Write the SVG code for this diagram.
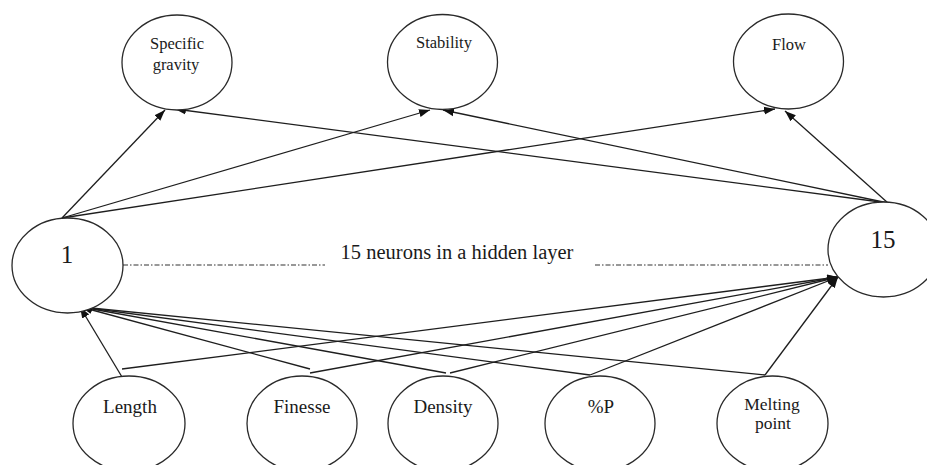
<svg xmlns="http://www.w3.org/2000/svg" width="927" height="465" viewBox="0 0 927 465" font-family="'Liberation Serif', 'DejaVu Serif', serif">
  <style>
    .node ellipse { fill: #ffffff; stroke: #2a2a2a; stroke-width: 1.3; }
    text { font-family: 'Liberation Serif', 'DejaVu Serif', serif; fill: #1a1a1a; text-anchor: middle; }
    .top { font-size: 16.5px; }
    .bot { font-size: 19px; }
    .hid { font-size: 25px; }
    .edge { stroke: #1e1e1e; stroke-width: 1.3; fill: none; marker-end: url(#arrow); }
    .dashdot { stroke: #333333; stroke-width: 1.1; fill: none; stroke-dasharray: 5 2 1.5 2; }
  </style>
  <defs>
    <marker id="arrow" markerUnits="userSpaceOnUse" markerWidth="12" markerHeight="9" refX="11" refY="4.5" orient="auto">
      <path d="M0,0.5 L11,4.5 L0,8.5 z" fill="#111111"/>
    </marker>
  </defs>
  <rect width="927" height="465" fill="#ffffff"/>

  <!-- connectors -->
  <g id="connectors">
    <!-- hidden neuron 1 to outputs -->
    <line class="edge" x1="62" y1="218" x2="165" y2="110"/>
    <line class="edge" x1="62" y1="218" x2="430" y2="110"/>
    <line class="edge" x1="62" y1="218" x2="775" y2="109"/>
    <!-- hidden neuron 15 to outputs -->
    <line class="edge" x1="888" y1="203" x2="175" y2="109"/>
    <line class="edge" x1="888" y1="203" x2="443" y2="110"/>
    <line class="edge" x1="888" y1="203" x2="785" y2="111"/>
    <!-- inputs to hidden neuron 1 -->
    <line class="edge" x1="122" y1="377" x2="80" y2="307"/>
    <line class="edge" x1="310" y1="369" x2="81" y2="307"/>
    <line class="edge" x1="446" y1="373" x2="81" y2="307"/>
    <line class="edge" x1="590" y1="375" x2="81" y2="307"/>
    <line class="edge" x1="765" y1="375" x2="81" y2="307"/>
    <!-- inputs to hidden neuron 15 -->
    <line class="edge" x1="122" y1="369" x2="838" y2="277"/>
    <line class="edge" x1="310" y1="373" x2="838" y2="277"/>
    <line class="edge" x1="450" y1="373" x2="838" y2="277"/>
    <line class="edge" x1="590" y1="375" x2="838" y2="277"/>
    <line class="edge" x1="765" y1="375" x2="838" y2="277"/>
    <!-- hidden layer span -->
    <line class="dashdot" x1="123" y1="265" x2="325" y2="265"/>
    <line class="dashdot" x1="595" y1="265" x2="828" y2="265"/>
  </g>

  <text x="457" y="259" font-size="20.5">15 neurons in a hidden layer</text>

  <!-- output layer -->
  <g id="out-specific-gravity" class="node">
    <ellipse cx="177" cy="62.5" rx="55" ry="47.5"/>
    <text class="top" x="177" y="49">Specific</text>
    <text class="top" x="176" y="70">gravity</text>
  </g>
  <g id="out-stability" class="node">
    <ellipse cx="442.5" cy="62" rx="55" ry="47.5"/>
    <text class="top" x="444" y="48">Stability</text>
  </g>
  <g id="out-flow" class="node">
    <ellipse cx="788.5" cy="61.5" rx="55" ry="47.5"/>
    <text class="top" x="789" y="50">Flow</text>
  </g>

  <!-- hidden layer -->
  <g id="hidden-1" class="node">
    <ellipse cx="67.5" cy="265.5" rx="55.5" ry="47.5"/>
    <text class="hid" x="67" y="263">1</text>
  </g>
  <g id="hidden-15" class="node">
    <ellipse cx="883.5" cy="249.5" rx="55.5" ry="47.5"/>
    <text class="hid" x="883" y="248">15</text>
  </g>

  <!-- input layer -->
  <g id="in-length" class="node">
    <ellipse cx="129" cy="423.5" rx="56" ry="47.5"/>
    <text class="bot" x="130" y="413">Length</text>
  </g>
  <g id="in-finesse" class="node">
    <ellipse cx="302" cy="423.5" rx="55" ry="47.5"/>
    <text class="bot" x="302" y="413">Finesse</text>
  </g>
  <g id="in-density" class="node">
    <ellipse cx="443" cy="423.5" rx="55" ry="47.5"/>
    <text class="bot" x="443" y="413">Density</text>
  </g>
  <g id="in-p" class="node">
    <ellipse cx="600" cy="423.5" rx="55" ry="47.5"/>
    <text class="bot" x="601" y="413">%P</text>
  </g>
  <g id="in-melting-point" class="node">
    <ellipse cx="772.5" cy="423.5" rx="55.5" ry="47.5"/>
    <text x="772" y="410" font-size="17.5">Melting</text>
    <text x="773" y="429" font-size="17.5">point</text>
  </g>
</svg>
